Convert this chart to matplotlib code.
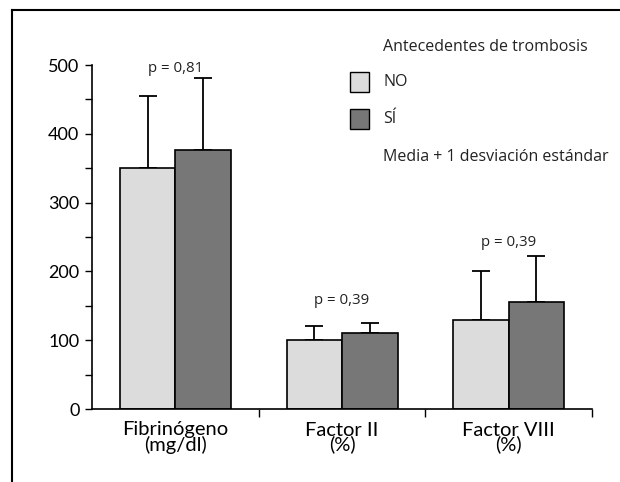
import matplotlib
matplotlib.use("Agg")
import matplotlib.pyplot as plt
from matplotlib.patches import Rectangle
from matplotlib.lines import Line2D
import numpy as np

categories = ["Fibrinógeno\n(mg/dl)", "Factor II\n(%)", "Factor VIII\n(%)"]
no_vals = [350, 100, 130]
si_vals = [376, 110, 155]
no_err = [105, 20, 70]
si_err = [105, 15, 67]
p_labels = ["p = 0,81", "p = 0,39", "p = 0,39"]
p_y = [490, 152, 237]
yticks = [0, 100, 200, 300, 400, 500]

plt.rcParams['font.family'] = ['Lato', 'DejaVu Sans']
small_font = ['Open Sans', 'DejaVu Sans']

fig = plt.figure(figsize=(6.2, 4.82), dpi=100)
ax = fig.add_axes([92/620, 1-409/482, 500/620, 344/482])

x = np.arange(len(categories))
w = 0.333
c_no = "#dcdcdc"
c_si = "#777777"
ax.bar(x - w/2, no_vals, w, color=c_no, edgecolor="black", linewidth=1.2, zorder=2)
ax.bar(x + w/2, si_vals, w, color=c_si, edgecolor="black", linewidth=1.2, zorder=2)
ax.errorbar(x - w/2, no_vals, yerr=[np.zeros(3), no_err], fmt="none", ecolor="black",
            elinewidth=1.3, capsize=6.5, capthick=1.3, zorder=1)
ax.errorbar(x + w/2, si_vals, yerr=[np.zeros(3), si_err], fmt="none", ecolor="black",
            elinewidth=1.3, capsize=6.5, capthick=1.3, zorder=1)

for xi, lab, yy in zip(x, p_labels, p_y):
    ax.text(xi, yy, lab, ha="center", va="baseline", fontsize=10.8, color="#222222",
            family=small_font, clip_on=False)

ax.set_xlim(-0.5, 2.5)
ax.set_ylim(0, 500)
ax.set_yticks(yticks)
ax.set_yticklabels([str(v) for v in yticks], fontsize=13)
ax.set_yticks(np.arange(50, 500, 100), minor=True)
ax.tick_params(axis="y", which="both", direction="out", length=5, width=1, pad=4)

ax.set_xticks(x)
ax.set_xticklabels(categories, fontsize=14.5, linespacing=0.8)
ax.tick_params(axis="x", which="major", length=0, pad=9)
ax.set_xticks([0.5, 1.5, 2.5], minor=True)
ax.tick_params(axis="x", which="minor", direction="out", length=6, width=1)

for s in ["top", "right"]:
    ax.spines[s].set_visible(False)
for s in ["left", "bottom"]:
    ax.spines[s].set_linewidth(1.2)

# Legend (manual)
W, H = 620, 482
def fx(px): return px / W
def fy(py): return 1 - py / H
fs_leg = 11.5
fig.text(fx(383), fy(47), "Antecedentes de trombosis", fontsize=fs_leg, va="center", ha="left",
         color="#222222", family=small_font)
fig.patches.append(Rectangle((fx(350), fy(92)), 19/W, 20/H, transform=fig.transFigure,
                             facecolor=c_no, edgecolor="black", linewidth=1.0))
fig.text(fx(383), fy(82), "NO", fontsize=fs_leg, va="center", ha="left", color="#222222",
         family=small_font)
fig.patches.append(Rectangle((fx(350), fy(129)), 19/W, 20/H, transform=fig.transFigure,
                             facecolor=c_si, edgecolor="black", linewidth=1.0))
fig.text(fx(383), fy(119), "SÍ", fontsize=fs_leg, va="center", ha="left", color="#222222",
         family=small_font)
fig.text(fx(383), fy(157), "Media + 1 desviación estándar", fontsize=fs_leg, va="center",
         ha="left", color="#222222", family=small_font)

# Frame
fig.add_artist(Line2D([fx(12), fx(12)], [fy(10), 0], transform=fig.transFigure, color="black", linewidth=1.5))
fig.add_artist(Line2D([fx(12), 1], [fy(10), fy(10)], transform=fig.transFigure, color="black", linewidth=1.5))

fig.savefig("out.png", dpi=100)
